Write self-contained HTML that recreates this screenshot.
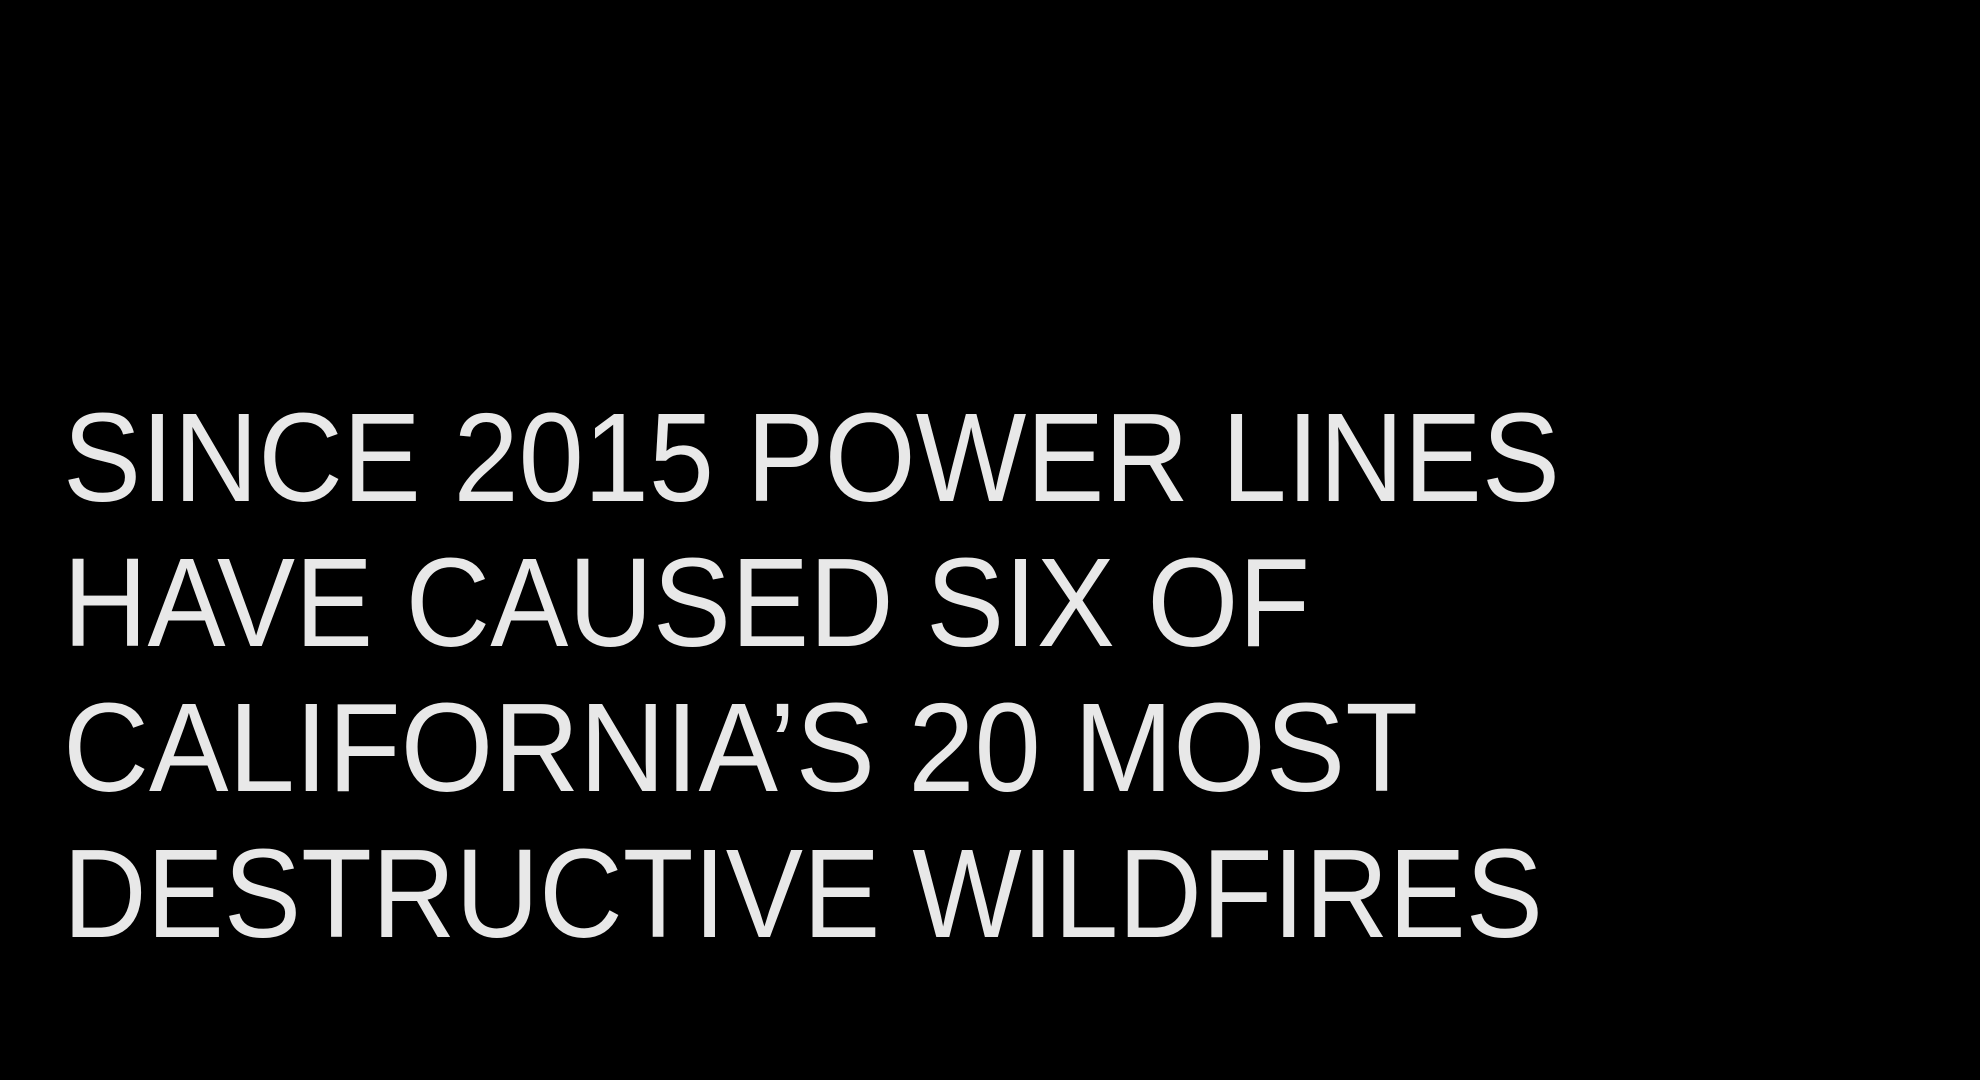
<!DOCTYPE html>
<html>
<head>
<meta charset="utf-8">
<style>
  html, body { margin: 0; padding: 0; background: #000; }
  body { width: 1980px; height: 1080px; overflow: hidden; }
  svg { display: block; }
  text { font-family: "Liberation Sans", "DejaVu Sans", sans-serif; font-size: 126px; fill: #e8e8e8; }
</style>
</head>
<body>
<svg width="1980" height="1080" viewBox="0 0 1980 1080">
  <rect x="0" y="0" width="1980" height="1080" fill="#000"/>
  <g>
    <text x="63" y="501" textLength="1497" lengthAdjust="spacingAndGlyphs">SINCE 2015 POWER LINES</text>
    <text x="63" y="646" textLength="1247" lengthAdjust="spacingAndGlyphs">HAVE CAUSED SIX OF</text>
    <text x="63" y="791" textLength="1355" lengthAdjust="spacingAndGlyphs">CALIFORNIA’S 20 MOST</text>
    <text x="63" y="937" textLength="1480" lengthAdjust="spacingAndGlyphs">DESTRUCTIVE WILDFIRES</text>
  </g>
</svg>
</body>
</html>
